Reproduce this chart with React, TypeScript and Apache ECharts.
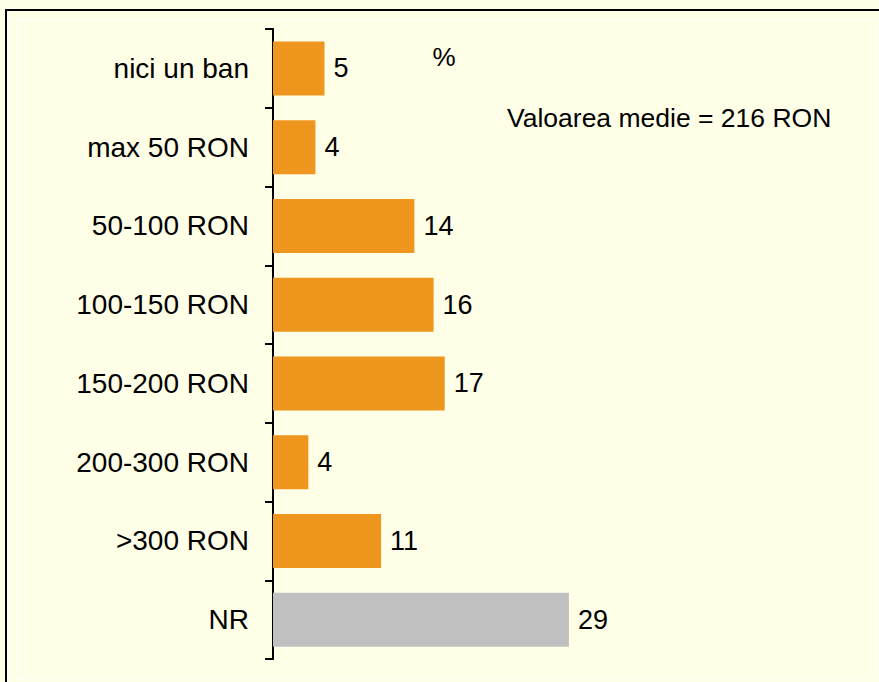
import React, { useEffect, useRef } from "react";
import * as echarts from "echarts";

const categories = ["nici un ban", "max 50 RON", "50-100 RON", "100-150 RON", "150-200 RON", "200-300 RON", ">300 RON", "NR"];
const values = [5.1, 4.2, 14, 15.9, 17, 3.5, 10.7, 29.3];
const valueLabels = ["5", "4", "14", "16", "17", "4", "11", "29"];
const barColors = ["#EF961F", "#EF961F", "#EF961F", "#EF961F", "#EF961F", "#EF961F", "#EF961F", "#C0C0C0"];
const unitLabel = "%";
const noteLabel = "Valoarea medie = 216 RON";

export default function App() {
  const ref = useRef<HTMLDivElement>(null);
  useEffect(() => {
    if (!ref.current) return;
    const chart = echarts.init(ref.current, null, { renderer: "svg" });
    const font = "Liberation Sans, Arial, sans-serif";
    chart.setOption({
      animation: false,
      backgroundColor: "#FFFFE7",
      grid: { left: 273, top: 29, bottom: 23, width: 505, containLabel: false },
      xAxis: {
        type: "value",
        min: 0,
        max: 50,
        show: false,
      },
      yAxis: {
        type: "category",
        data: categories,
        inverse: true,
        axisLine: { show: true, lineStyle: { color: "#000", width: 2 } },
        axisTick: { show: true, length: 8, lineStyle: { color: "#000", width: 2 } },
        axisLabel: { color: "#000", fontSize: 28, fontFamily: font, margin: 24 },
      },
      series: [
        {
          type: "bar",
          data: values.map((v, i) => ({ value: v, itemStyle: { color: barColors[i] } })),
          barWidth: 54,
          label: {
            show: true,
            position: "right",
            distance: 9,
            color: "#000",
            fontSize: 27,
            fontFamily: font,
            formatter: (p: any) => valueLabels[p.dataIndex],
          },
        },
      ],
      graphic: [
        {
          type: "rect",
          shape: { x: 6, y: 10, width: 880, height: 700 },
          style: { fill: "none", stroke: "#000", lineWidth: 2 },
          silent: true,
        },
        {
          type: "rect",
          shape: { x: 16.5, y: 20.5, width: 860, height: 657 },
          style: { fill: "none", stroke: "#FFFFF8", lineWidth: 1.5 },
          silent: true,
        },
        {
          type: "text",
          x: 444,
          y: 57,
          style: { text: unitLabel, fontSize: 26, fontFamily: font, fill: "#000", align: "center", verticalAlign: "middle" },
        },
        {
          type: "text",
          x: 507,
          y: 118,
          style: { text: noteLabel, fontSize: 26.5, fontFamily: font, fill: "#000", align: "left", verticalAlign: "middle" },
        },
      ],
    });
    return () => chart.dispose();
  }, []);
  return <div ref={ref} style={{ position: "fixed", left: 0, top: 0, width: 879, height: 682 }} />;
}
